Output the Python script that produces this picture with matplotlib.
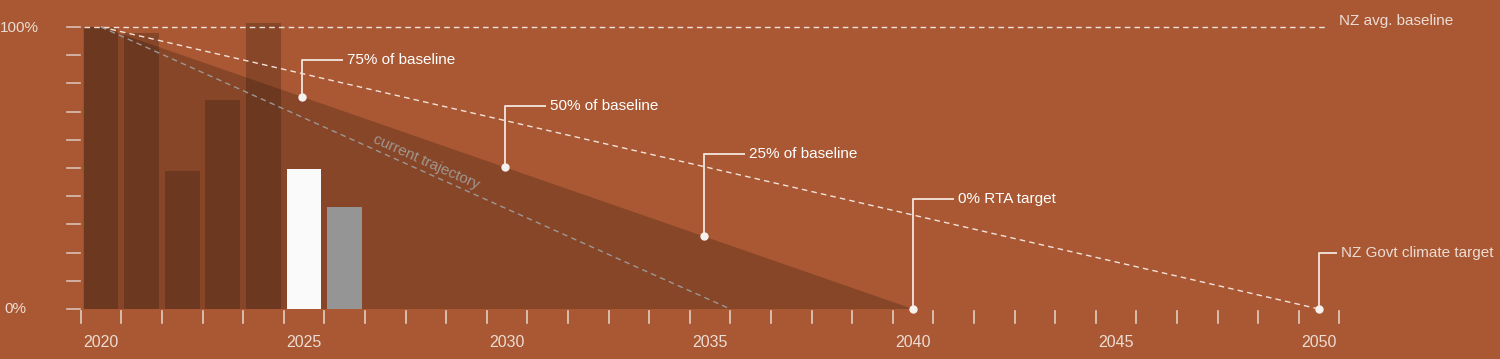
import matplotlib.pyplot as plt
import numpy as np

# ---- data ----
bar_years = [2020, 2021, 2022, 2023, 2024]
bar_values = [100, 98, 49, 74, 101.5]
current_year = [2025]
current_value = [49.5]
projected_year = [2026]
projected_value = [36]

rta_years = [2020, 2040]
rta_values = [100, 0]
govt_years = [2020, 2050]
govt_values = [100, 0]
trajectory_years = [2020, 2035.5]
trajectory_values = [100, 0]

milestone_years = [2024.95, 2029.95, 2034.85, 2040, 2050]
milestone_values = [75.25, 50.25, 25.75, 0, 0]
milestone_labels = ["75% of baseline", "50% of baseline", "25% of baseline",
                    "0% RTA target", "NZ Govt climate target"]

label_years = [2020, 2025, 2030, 2035, 2040, 2045, 2050]

# ---- style ----
BG = "#a95833"
TXT = "#ecdcd3"
plt.rcParams['font.family'] = ['Liberation Sans', 'DejaVu Sans']

W, H = 1500, 359
fig = plt.figure(figsize=(W / 100, H / 100), dpi=100, facecolor=BG)
ax = fig.add_axes([0, 0, 1, 1])
ax.set_facecolor(BG)
ax.axis('off')

# pixel mapping: 2020 -> x=101, 40.6 px/year; 0% -> y=309, 2.82 px per %
px_year, x0 = 40.6, 101
px_pct, y0 = 2.82, 309
ax.set_xlim(2020 - x0 / px_year, 2020 + (W - x0) / px_year)
ax.set_ylim(-(H - y0) / px_pct, y0 / px_pct)

# RTA target triangle
ax.fill([2019.57, rta_years[0], rta_years[1], 2019.57],
        [rta_values[0], rta_values[0], rta_values[1], 0],
        color="black", alpha=0.2, lw=0, zorder=1)

# historical bars
ax.bar(bar_years, bar_values, width=0.86, color="black", alpha=0.2, lw=0, zorder=2)
ax.bar(current_year, current_value, width=0.86, color="#fafafa", lw=0, zorder=3)
ax.bar(projected_year, projected_value, width=0.86, color="#949594", lw=0, zorder=3)

# baseline
ax.plot([2019.57, 2050.2], [100, 100], color="#f2e2da", lw=1, dashes=(4, 3), zorder=4)
ax.text(2050.5, 102, "NZ avg. baseline", color=TXT, fontsize=11, va='center', ha='left')

# govt target line
ax.plot(govt_years, govt_values, color="#f2e2da", lw=1, dashes=(4, 3), zorder=4)

# current trajectory
ax.plot(trajectory_years, trajectory_values, color="#9c9794", lw=1, dashes=(4, 3), zorder=4)
p1 = ax.transData.transform((trajectory_years[0], trajectory_values[0]))
p2 = ax.transData.transform((trajectory_years[1], trajectory_values[1]))
ang = np.degrees(np.arctan2(p2[1] - p1[1], p2[0] - p1[0]))
ax.text(2028.0, 52, "current trajectory", color="#a0958f", fontsize=11,
        rotation=ang, rotation_mode='anchor', ha='center', va='center', zorder=5)

# milestone annotations
rise = [37, 61, 82, 110, 56]  # leader heights in px
for yr, val, lab, r in zip(milestone_years, milestone_values, milestone_labels, rise):
    top = val + r / px_pct
    elbow = yr + (40 if yr != 2050 else 17) / px_year
    ax.plot([yr, yr, elbow], [val, top, top], color="#efdcd3", lw=1.4, zorder=6,
            clip_on=False)
    ax.plot([yr], [val], 'o', color="#f7f2ef", ms=5, zorder=7)
    color = "white" if yr != 2050 else TXT
    ax.text(elbow + 5 / px_year, top, lab, color=color, fontsize=11, va='center',
            ha='left', zorder=7)

# y ticks
for v in np.arange(0, 101, 10):
    ax.plot([2020 - 34 / px_year, 2020 - 21 / px_year], [v, v], color="#d9bfb2",
            lw=1.2, zorder=4)
ax.text(2020 - 101 / px_year, 99.5, "100%", color=TXT, fontsize=11, va='center', ha='left')
ax.text(2020 - 97 / px_year, 0, "0%", color=TXT, fontsize=11, va='center', ha='left')

# x ticks
for t in np.arange(2019.5, 2051, 1):
    ax.plot([t, t], [-0.7, -5], color="#e3cdc2", lw=1.2, zorder=4)
for yr in label_years:
    ax.text(yr, -12, str(yr), color=TXT, fontsize=11.5, va='center', ha='center')

fig.savefig("out.png", dpi=100, facecolor=BG)
